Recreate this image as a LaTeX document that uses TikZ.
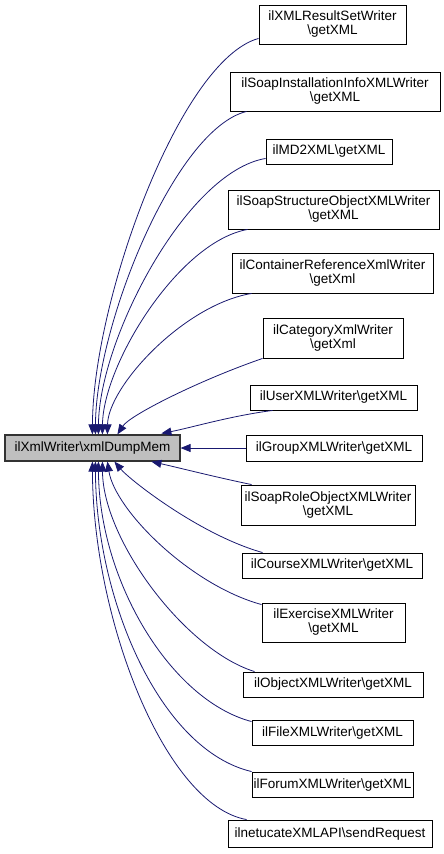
\documentclass[tikz,border=0pt]{standalone}
\usepackage{fontspec}
\setmainfont{Liberation Sans}
\usetikzlibrary{arrows.meta,calc}
\definecolor{edgeblue}{HTML}{191970}
\definecolor{maingrey}{HTML}{BFBFBF}
\tikzset{
  box/.style={draw=black,line width=0.9pt,fill=white,inner sep=0pt,align=center,
    font=\fontsize{13.5}{14}\selectfont},
  mainbox/.style={box,fill=maingrey,draw=black!80,line width=1.2pt},
  edge/.style={draw=edgeblue,line width=0.8pt,{Triangle[length=10pt,width=8pt]}-}
}
\begin{document}
\begin{tikzpicture}[x=1pt,y=-1pt]
\useasboundingbox (0,0) rectangle (444,854);
\node[mainbox,minimum width=175pt,minimum height=26pt] (main) at (92.5,448) {ilXmlWriter\textbackslash xmlDumpMem};

\node[box,minimum width=147pt,minimum height=39pt] (r1) at (332.5,24.5) {ilXMLResultSetWriter\\\textbackslash getXML};
\node[box,minimum width=210pt,minimum height=39pt] (r2) at (335,91.5) {ilSoapInstallationInfoXMLWriter\\\textbackslash getXML};
\node[box,minimum width=126pt,minimum height=25pt] (r3) at (329,151.5) {ilMD2XML\textbackslash getXML};
\node[box,minimum width=211pt,minimum height=39pt] (r4) at (333.5,209.5) {ilSoapStructureObjectXMLWriter\\\textbackslash getXML};
\node[box,minimum width=201pt,minimum height=40pt] (r5) at (332.5,273) {ilContainerReferenceXmlWriter\\\textbackslash getXml};
\node[box,minimum width=140pt,minimum height=40pt] (r6) at (333,338) {ilCategoryXmlWriter\\\textbackslash getXml};
\node[box,minimum width=167pt,minimum height=25pt] (r7) at (333.5,397.5) {ilUserXMLWriter\textbackslash getXML};
\node[box,minimum width=176pt,minimum height=26pt] (r8) at (334,448) {ilGroupXMLWriter\textbackslash getXML};
\node[box,minimum width=174pt,minimum height=40pt] (r9) at (328,505) {ilSoapRoleObjectXMLWriter\\\textbackslash getXML};
\node[box,minimum width=180pt,minimum height=25pt] (r10) at (332,565.5) {ilCourseXMLWriter\textbackslash getXML};
\node[box,minimum width=143pt,minimum height=39pt] (r11) at (333.5,622.5) {ilExerciseXMLWriter\\\textbackslash getXML};
\node[box,minimum width=180pt,minimum height=25pt] (r12) at (333,684.5) {ilObjectXMLWriter\textbackslash getXML};
\node[box,minimum width=161pt,minimum height=25pt] (r13) at (332.5,732.5) {ilFileXMLWriter\textbackslash getXML};
\node[box,minimum width=161pt,minimum height=25pt] (r14) at (332.5,784.5) {ilForumXMLWriter\textbackslash getXML};
\node[box,minimum width=204pt,minimum height=27pt] (r15) at (330,833.5) {ilnetucateXMLAPI\textbackslash sendRequest};

% upper edges
\draw[edge] ($(main.north west)+(88,0)$) .. controls (93,300) and (180,60) .. ($(r1.south west)+(0,-6)$);
\draw[edge] ($(main.north west)+(91,0)$) .. controls (96,325) and (175,129) .. ($(r2.south west)+(17,0)$);
\draw[edge] ($(main.north west)+(94,0)$) .. controls (99,340) and (186,172) .. ($(r3.south west)+(0,-6)$);
\draw[edge] ($(main.north west)+(98,0)$) .. controls (103,365) and (178,242) .. ($(r4.south west)+(20,0)$);
\draw[edge] ($(main.north west)+(103,0)$) .. controls (108,387) and (183,305) .. ($(r5.south west)+(20,0)$);
\draw[edge] ($(main.north west)+(113,0)$) .. controls (130,415) and (200,380) .. ($(r6.south west)+(0,0)$);
\draw[edge] ($(main.north west)+(157,-1)$) .. controls (190,428) and (230,416) .. ($(r7.south west)+(23,0)$);
% middle
\draw[edge] (main.east) -- (r8.west);
% lower edges
\draw[edge] ($(main.south west)+(147,0)$) .. controls (180,468) and (215,477) .. ($(r9.north west)+(11,0)$);
\draw[edge] ($(main.south west)+(110,0)$) .. controls (130,480) and (200,535) .. ($(r10.north west)+(21,0)$);
\draw[edge] ($(main.south west)+(103,0)$) .. controls (115,510) and (190,585) .. ($(r11.north west)+(0,2)$);
\draw[edge] ($(main.south west)+(98,0)$) .. controls (103,540) and (185,650) .. ($(r12.north west)+(12,0)$);
\draw[edge] ($(main.south west)+(94,0)$) .. controls (99,580) and (170,700) .. ($(r13.north west)+(0,2)$);
\draw[edge] ($(main.south west)+(91,0)$) .. controls (96,600) and (160,750) .. ($(r14.north west)+(0,0)$);
\draw[edge] ($(main.south west)+(88,0)$) .. controls (93,620) and (165,805) .. ($(r15.north west)+(19,0)$);
\end{tikzpicture}
\end{document}
